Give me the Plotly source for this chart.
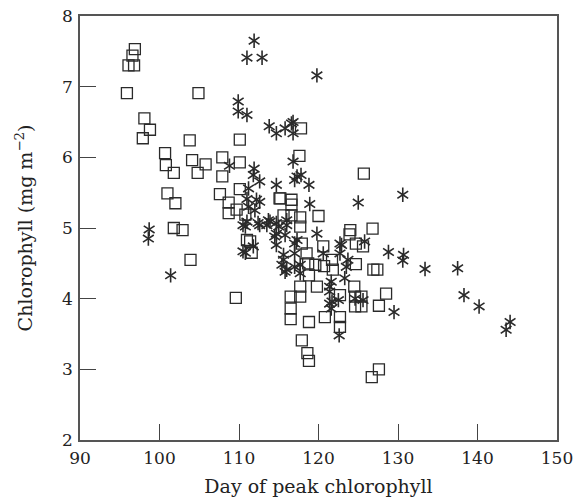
import plotly.graph_objects as go

# Open squares (day of peak, chlorophyll)
sq_day = [96.9, 96.6, 96.1, 96.8, 95.9, 104.9, 98.1, 98.8, 97.9, 103.8, 110.1, 100.7, 100.8, 101.8,
          104.1, 105.8, 104.8, 107.9, 110.1, 107.9, 101.0, 102.0, 107.6, 108.7, 108.7, 110.1, 109.7,
          110.8, 101.8, 102.9, 111.4, 115.1, 103.9, 109.6, 111.6,
          117.8, 117.6, 125.7, 115.2, 116.6, 116.6, 120.0, 115.6, 116.6, 117.7, 126.8, 123.9, 124.7,
          120.6, 127.4, 126.9, 128.5, 127.6, 124.6, 125.4, 124.6, 125.4, 124.5, 122.7, 122.7, 122.7,
          120.8, 118.8, 117.9, 118.6, 118.8, 127.6, 126.7, 116.5, 117.7, 116.5, 116.5, 117.7, 119.8,
          118.8, 119.6, 120.7, 121.8, 124.7, 118.5, 118.7, 117.9, 117.7, 111.0, 125.6, 121.7, 124.0]
sq_chl = [7.53, 7.44, 7.30, 7.30, 6.91, 6.91, 6.55, 6.39, 6.27, 6.24, 6.25, 6.06, 5.89, 5.78,
          5.96, 5.90, 5.78, 6.00, 5.93, 5.73, 5.49, 5.35, 5.48, 5.36, 5.21, 5.55, 5.26,
          5.19, 5.00, 4.97, 4.81, 5.42, 4.55, 4.01, 4.65,
          6.41, 6.02, 5.77, 5.42, 5.40, 5.33, 5.17, 5.18, 5.18, 5.15, 4.99, 4.91, 4.78,
          4.74, 4.41, 4.41, 4.07, 3.90, 4.03, 4.03, 3.89, 3.89, 4.17, 4.05, 3.74, 3.60,
          3.74, 3.67, 3.41, 3.23, 3.12, 3.00, 2.89, 4.03, 4.03, 3.86, 3.71, 4.17, 4.17,
          4.33, 4.48, 4.46, 4.41, 4.49, 4.64, 4.50, 4.78, 5.02, 4.83, 4.74, 4.55, 4.97]

# Asterisks (day of peak, chlorophyll)
ast_day = [111.9, 111.0, 112.9, 109.9, 109.9, 111.0, 113.8, 114.7, 98.7, 98.6, 108.8, 111.9, 111.8,
           112.6, 114.7, 111.2, 111.0, 112.6, 112.0, 110.8, 112.6, 113.9, 114.7, 111.8, 101.4, 110.8,
           119.8, 115.8, 116.8, 116.8, 116.8, 117.0, 117.8, 118.8, 130.6, 125.0, 118.9, 119.8, 125.8,
           122.7, 128.8, 130.7, 130.6, 133.4, 137.5, 138.3, 140.2, 144.1, 143.6, 129.5, 124.6, 125.6,
           121.6, 121.4, 122.6, 115.6, 115.8, 117.0, 117.7, 114.7, 117.0, 121.4, 121.6, 123.3, 123.5,
           123.7, 122.9, 120.6, 116.6, 117.3, 111.0, 112.4, 113.7, 114.7, 116.0, 110.5, 113.5, 115.0,
           116.0, 114.5, 115.8, 117.3, 117.0, 115.6, 115.4, 116.0, 117.7, 110.5, 122.7, 121.4, 121.7,
           122.5, 112.2, 111.2]
ast_chl = [7.65, 7.41, 7.41, 6.79, 6.65, 6.60, 6.44, 6.34, 4.98, 4.85, 5.88, 5.84, 5.75,
           5.66, 5.61, 5.56, 5.41, 5.37, 5.25, 5.02, 5.04, 5.09, 4.92, 4.74, 4.33, 4.65,
           7.16, 6.41, 6.50, 6.34, 5.94, 5.68, 5.75, 5.61, 5.47, 5.36, 5.34, 4.92, 4.81,
           4.78, 4.66, 4.62, 4.54, 4.42, 4.43, 4.05, 3.89, 3.67, 3.56, 3.81, 4.00, 3.98,
           3.86, 3.93, 3.48, 4.55, 4.38, 4.45, 4.48, 4.76, 4.78, 4.17, 4.24, 4.29, 4.45,
           4.55, 4.76, 4.64, 6.48, 5.73, 5.09, 5.07, 5.11, 5.07, 5.11, 5.04, 5.04, 5.02,
           5.04, 4.88, 4.90, 4.83, 4.64, 4.62, 4.48, 4.41, 4.36, 4.67, 4.64, 4.10, 3.96,
           3.98, 5.40, 5.30]

x_ticks = [90, 100, 110, 120, 130, 140, 150]
y_ticks = [2, 3, 4, 5, 6, 7, 8]

ink = "#2a2a2a"
fig = go.Figure()

fig.add_trace(go.Scatter(
    x=sq_day, y=sq_chl, mode="markers",
    marker=dict(symbol="square-open", size=11, color=ink, line=dict(width=1.3, color=ink)),
))
# six-armed asterisk = y-up + y-down on the same points
for sym in ["y-up-open", "y-down-open"]:
    fig.add_trace(go.Scatter(
        x=ast_day, y=ast_chl, mode="markers",
        marker=dict(symbol=sym, size=9, color=ink, line=dict(width=1.6, color=ink)),
    ))

axis_style = dict(
    showgrid=False, zeroline=False, showline=True, mirror=True, automargin=False,
    linecolor="#555555", linewidth=1.5,
    ticks="inside", ticklen=16, tickwidth=1.2, tickcolor="#444444",
    ticklabeloverflow="allow",
    tickfont=dict(family="DejaVu Serif", size=17, color="#222222"),
)

fig.update_layout(
    width=576, height=503,
    margin=dict(l=80, r=19, t=16, b=63),
    paper_bgcolor="white", plot_bgcolor="white",
    showlegend=False,
    font=dict(family="DejaVu Serif", size=16, color="#222222"),
    xaxis=dict(range=[90, 150], tickvals=x_ticks, ticklabelstandoff=2,
               title=dict(text="Day of peak chlorophyll", standoff=13), **axis_style),
    yaxis=dict(range=[2, 8], tickvals=y_ticks, ticklabelstandoff=2,
               title=dict(text="Chlorophyll (mg m<sup>−2</sup>)", standoff=24), **axis_style),
)

# drop the default 8px body margin so the figure sits at the window corner
fig.write_html("out.html", config={"displayModeBar": False},
               post_script="document.body.style.margin = '0';")
